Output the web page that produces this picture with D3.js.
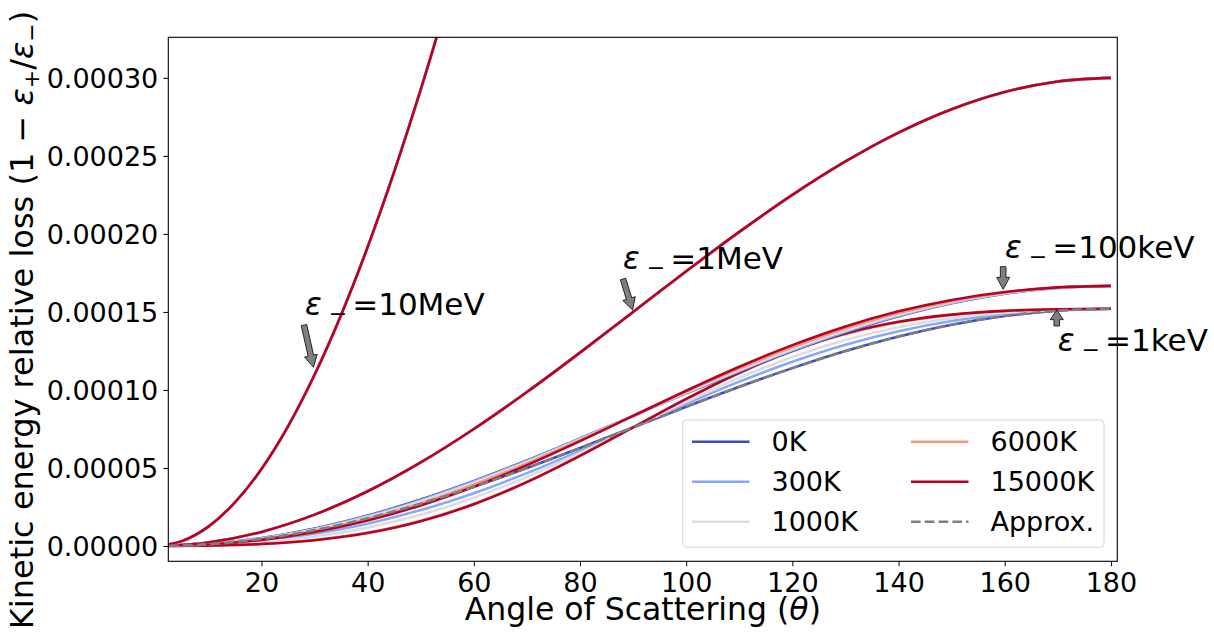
<!DOCTYPE html>
<html>
<head>
<meta charset="utf-8">
<script src="https://cdn.jsdelivr.net/npm/d3@7"></script>
<style>
  body { margin: 0; background: #fff; }
  text { font-family: "DejaVu Sans", sans-serif; fill: #000; }
</style>
</head>
<body>
<div id="container"></div>
<script>
// scattering angle (deg) and relative loss, in units of 1e-5
let theta = [0, 10, 20, 30, 40, 50, 60, 70, 80, 90, 100, 110, 120, 130, 140, 150, 160, 170, 180];
let theta10MeV = [0, 5, 10, 15, 20, 25, 30, 35, 40, 45, 50, 55, 60];

let temps = ["0K", "300K", "1000K", "6000K", "15000K"];
let tempColors = ["#3b4cc0", "#86a9fc", "#dddddd", "#f4987a", "#b40426"];

let loss1keV_0K     = [0, 0.115, 0.458, 1.018, 1.778, 2.715, 3.800, 5.000, 6.280, 7.600, 8.920, 10.200, 11.400, 12.490, 13.420, 14.180, 14.740, 15.080, 15.200];
let loss1keV_300K   = [0, 0.082, 0.337, 0.780, 1.430, 2.300, 3.387, 4.668, 6.095, 7.600, 9.105, 10.532, 11.813, 12.905, 13.768, 14.418, 14.861, 15.113, 15.200];
let loss1keV_1000K  = [0, 0.059, 0.249, 0.607, 1.177, 1.998, 3.087, 4.426, 5.960, 7.600, 9.240, 10.774, 12.113, 13.207, 14.021, 14.591, 14.949, 15.136, 15.200];
let loss1keV_6000K  = [0, 0.029, 0.139, 0.390, 0.860, 1.621, 2.712, 4.124, 5.792, 7.600, 9.408, 11.076, 12.488, 13.584, 14.338, 14.808, 15.059, 15.166, 15.200];
let loss1keV_15000K = [0, 0.026, 0.128, 0.368, 0.828, 1.583, 2.675, 4.094, 5.775, 7.600, 9.425, 11.106, 12.525, 13.622, 14.370, 14.830, 15.070, 15.169, 15.200];

let loss100keV_0K     = [0, 0.127, 0.503, 1.117, 1.950, 2.977, 4.168, 5.484, 6.888, 8.335, 9.782, 11.186, 12.500, 13.693, 14.720, 15.553, 16.167, 16.543, 16.670];
let loss100keV_300K   = [0, 0.124, 0.492, 1.095, 1.918, 2.939, 4.130, 5.454, 6.871, 8.335, 9.799, 11.216, 12.537, 13.731, 14.752, 15.575, 16.178, 16.546, 16.670];
let loss100keV_1000K  = [0, 0.118, 0.470, 1.052, 1.855, 2.864, 4.056, 5.393, 6.837, 8.335, 9.833, 11.277, 12.613, 13.806, 14.815, 15.618, 16.200, 16.552, 16.670];
let loss100keV_6000K  = [0, 0.108, 0.432, 0.976, 1.744, 2.732, 3.924, 5.288, 6.779, 8.335, 9.891, 11.382, 12.744, 13.938, 14.926, 15.694, 16.238, 16.562, 16.670];
let loss100keV_15000K = [0, 0.097, 0.393, 0.901, 1.634, 2.600, 3.793, 5.182, 6.720, 8.335, 9.950, 11.488, 12.875, 14.070, 15.037, 15.770, 16.277, 16.573, 16.670];

// at 1MeV and 10MeV the temperatures are indistinguishable
let loss1MeV  = [0, 0.228, 0.905, 2.010, 3.509, 5.358, 7.500, 9.870, 12.395, 15.000, 17.605, 20.130, 22.500, 24.642, 26.491, 27.990, 29.095, 29.772, 30.000];
let loss10MeV = [0, 0.312, 1.244, 2.791, 4.939, 7.673, 10.972, 14.810, 19.161, 23.990, 29.256, 34.930, 40.950];

let lossApprox = [0, 0.115, 0.458, 1.018, 1.778, 2.715, 3.800, 5.000, 6.280, 7.600, 8.920, 10.200, 11.400, 12.490, 13.420, 14.180, 14.740, 15.080, 15.200];

let xTicks = [20, 40, 60, 80, 100, 120, 140, 160, 180];
let yTicks = [0, 5, 10, 15, 20, 25, 30];

let annoLabels = ["10MeV", "1MeV", "100keV", "1keV"];
// arrow tip, arrow tail and text anchor (left, baseline) in data coords
let annoTip  = [[29.8, 11.45], [89.9, 15.12], [159.7, 16.45], [169.8, 15.12]];
let annoTail = [[28.0, 14.16], [88.1, 17.11], [159.7, 17.90], [169.8, 14.10]];
let annoText = [[28.2, 14.80], [88.1, 17.73], [160.05, 18.47], [170.0, 12.49]];

let w = 1214;
let h = 632;
let plotLeft = 168.3, plotRight = 1117.3, plotTop = 37.3, plotBottom = 561.3;

let svg = d3.select("#container")
  .append("svg")
    .attr("width", w)
    .attr("height", h)
    .style("display", "block")
;
svg.append("rect").attr("width", w).attr("height", h).attr("fill", "#fff");

let x = d3.scaleLinear().domain([2.45, 181.2]).range([plotLeft, plotRight]);
let y = d3.scaleLinear().domain([-0.98, 32.6]).range([plotBottom, plotTop]);

svg.append("defs").append("clipPath").attr("id", "plotclip")
  .append("rect")
    .attr("x", plotLeft).attr("y", plotTop)
    .attr("width", plotRight - plotLeft).attr("height", plotBottom - plotTop);

// build series list in drawing order
let series = [];
let set1keV = [loss1keV_0K, loss1keV_300K, loss1keV_1000K, loss1keV_6000K, loss1keV_15000K];
let set100keV = [loss100keV_0K, loss100keV_300K, loss100keV_1000K, loss100keV_6000K, loss100keV_15000K];
for (let i = 0; i < temps.length; i++) {
  series.push({ xs: theta, ys: set1keV[i], color: tempColors[i] });
}
for (let i = 0; i < temps.length; i++) {
  series.push({ xs: theta, ys: set100keV[i], color: tempColors[i] });
}
for (let i = 0; i < temps.length; i++) {
  series.push({ xs: theta, ys: loss1MeV, color: tempColors[i] });
}
for (let i = 0; i < temps.length; i++) {
  series.push({ xs: theta10MeV, ys: loss10MeV, color: tempColors[i] });
}

let line = d3.line()
  .x(function(d) { return x(d[0]); })
  .y(function(d) { return y(d[1]); })
  .curve(d3.curveMonotoneX);

let plot = svg.append("g").attr("clip-path", "url(#plotclip)");

plot.selectAll(".curve").data(series).enter()
  .append("path")
    .attr("class", "curve")
    .attr("d", function(s) { return line(s.xs.map(function(t, i) { return [t, s.ys[i]]; })); })
    .attr("fill", "none")
    .attr("stroke", function(s) { return s.color; })
    .attr("stroke-width", 2.6)
;

plot.append("path")
  .attr("d", line(theta.map(function(t, i) { return [t, lossApprox[i]]; })))
  .attr("fill", "none")
  .attr("stroke", "#7f7f7f")
  .attr("stroke-width", 2.6)
  .attr("stroke-dasharray", "9.6,4.2")
;

// axes
let xAxis = d3.axisBottom(x).tickValues(xTicks).tickSize(5).tickPadding(5);
let yAxis = d3.axisLeft(y).tickValues(yTicks).tickSize(5).tickPadding(5)
  .tickFormat(function(d) { return (d * 1e-5).toFixed(5); });

let gx = svg.append("g").attr("transform", "translate(0," + plotBottom + ")").call(xAxis);
let gy = svg.append("g").attr("transform", "translate(" + plotLeft + ",0)").call(yAxis);
[gx, gy].forEach(function(g) {
  g.select(".domain").remove();
  g.selectAll(".tick line").attr("stroke", "#000").attr("stroke-width", 1);
  g.selectAll(".tick text")
    .attr("font-family", "DejaVu Sans")
    .attr("font-size", 27)
    .attr("fill", "#000");
});
gx.selectAll(".tick text").attr("dy", "0.76em");
gy.selectAll(".tick text").attr("dy", "0.36em");

svg.append("rect")
  .attr("x", plotLeft).attr("y", plotTop)
  .attr("width", plotRight - plotLeft).attr("height", plotBottom - plotTop)
  .attr("fill", "none")
  .attr("stroke", "#000")
  .attr("stroke-width", 1.1)
;

// axis labels
let xl = svg.append("text")
  .attr("x", (plotLeft + plotRight) / 2)
  .attr("y", 620)
  .attr("text-anchor", "middle")
  .attr("font-size", 31.5);
xl.append("tspan").text("Angle of Scattering (");
xl.append("tspan").attr("font-style", "italic").text("θ");
xl.append("tspan").text(")");

let yl = svg.append("text")
  .attr("transform", "translate(33,320) rotate(-90)")
  .attr("text-anchor", "middle")
  .attr("font-size", 32);
yl.append("tspan").text("Kinetic energy relative loss (1 − ");
yl.append("tspan").attr("font-style", "italic").text("ε");
yl.append("tspan").attr("font-size", 22).attr("dy", 6).text("+");
yl.append("tspan").attr("dy", -6).text("/");
yl.append("tspan").attr("font-style", "italic").text("ε");
yl.append("tspan").attr("font-size", 22).attr("dy", 6).text("−");
yl.append("tspan").attr("dy", -6).text(")");

// annotations
function arrowPath(x0, y0, x1, y1) {
  let dx = x1 - x0, dy = y1 - y0;
  let L = Math.sqrt(dx * dx + dy * dy);
  let ux = dx / L, uy = dy / L;
  let nx = -uy, ny = ux;
  let sw = 2.8, hw = 6.5, hl = Math.min(12, L * 0.6);
  let bx = x1 - ux * hl, by = y1 - uy * hl;
  let pts = [
    [x0 + nx * sw, y0 + ny * sw],
    [bx + nx * sw, by + ny * sw],
    [bx + nx * hw, by + ny * hw],
    [x1, y1],
    [bx - nx * hw, by - ny * hw],
    [bx - nx * sw, by - ny * sw],
    [x0 - nx * sw, y0 - ny * sw]
  ];
  return "M" + pts.map(function(p) { return p[0] + "," + p[1]; }).join("L") + "Z";
}

for (let i = 0; i < annoLabels.length; i++) {
  svg.append("path")
    .attr("d", arrowPath(x(annoTail[i][0]), y(annoTail[i][1]), x(annoTip[i][0]), y(annoTip[i][1])))
    .attr("fill", "#808080")
    .attr("stroke", "#000")
    .attr("stroke-width", 0.8)
  ;
  let t = svg.append("text")
    .attr("x", x(annoText[i][0]))
    .attr("y", y(annoText[i][1]))
    .attr("font-size", 31);
  t.append("tspan").attr("font-style", "italic").text("ε");
  t.append("tspan").attr("font-size", 22).attr("dx", 7).attr("dy", 6).text("−");
  t.append("tspan").attr("dx", 5).attr("dy", -6).text("=" + annoLabels[i]);
}

// legend
let legendLabels = ["0K", "300K", "1000K", "6000K", "15000K", "Approx."];
let legendColors = tempColors.concat(["#7f7f7f"]);
let lg = svg.append("g");
lg.append("rect")
  .attr("x", 682.7).attr("y", 420)
  .attr("width", 421.3).attr("height", 127.3)
  .attr("rx", 4)
  .attr("fill", "#fff")
  .attr("fill-opacity", 0.8)
  .attr("stroke", "#d4d4d4")
  .attr("stroke-width", 1)
;
let colX = [692, 911];
let rowY = [441.7, 481.7, 521.7];
legendLabels.forEach(function(lab, i) {
  let cx = colX[Math.floor(i / 3)];
  let cy = rowY[i % 3];
  lg.append("line")
    .attr("x1", cx).attr("x2", cx + 57.5)
    .attr("y1", cy).attr("y2", cy)
    .attr("stroke", legendColors[i])
    .attr("stroke-width", 2.6)
    .attr("stroke-dasharray", lab == "Approx." ? "9.6,4.2" : null)
  ;
  lg.append("text")
    .attr("x", cx + 79.5)
    .attr("y", cy)
    .attr("dy", "0.36em")
    .attr("font-size", 27)
    .text(lab);
});
</script>
</body>
</html>
